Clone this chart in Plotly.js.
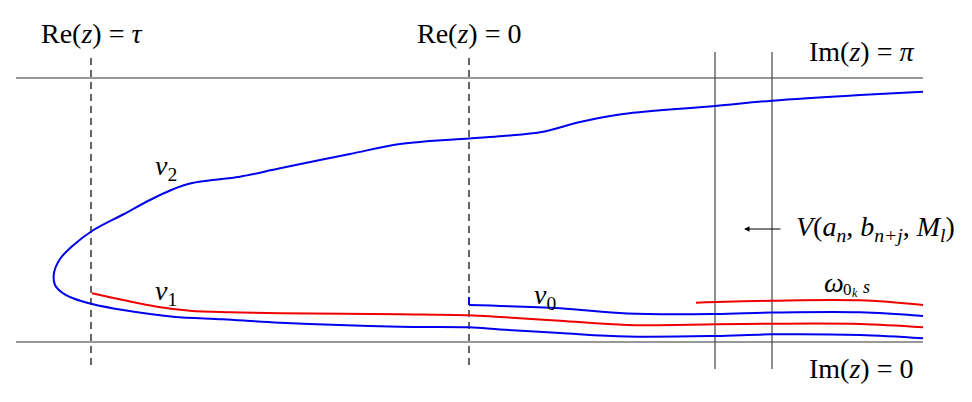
<!DOCTYPE html>
<html><head><meta charset="utf-8">
<script src="https://cdn.plot.ly/plotly-3.0.1.min.js"></script>
<style>html,body{margin:0;padding:0;background:#fff}#plot{width:972px;height:402px}</style>
</head><body><div id="plot"></div>
<script>
// Boundary lines Im(z)=π and Im(z)=0
const boundX = [16, 923];
const imPiY = [78, 78];
const imZeroY = [342, 342];
// Dashed vertical lines Re(z)=τ and Re(z)=0
const reTauX = [91, 91];
const reZeroX = [469, 469];
const dashY = [58, 369];
// Solid vertical lines of the box V
const vLeftX = [715, 715];
const vRightX = [772, 772];
const vY = [52, 369];
// Blue loop curve (ν2 upper branch, lower branch under ν1)
const loopX = [923, 860, 772, 715, 623, 580, 543, 503, 469, 400, 350, 280, 240, 207, 190, 173, 150, 123, 92, 73, 60, 54, 55, 63, 73, 92, 123, 173, 223, 280, 400, 469, 500, 560, 627, 715, 772, 860, 923];
const loopY = [91.7, 95, 100.7, 106, 114, 122, 131.7, 136, 138.5, 144, 154, 168.3, 176.7, 180.7, 183.5, 189.3, 200, 214.5, 231, 245.5, 259, 273, 285, 293.3, 298.3, 304, 310, 316.7, 319.3, 322.7, 326.7, 327.3, 329.5, 333, 336.5, 336, 334.3, 335, 338.3];
// Red curve ν1
const nu1X = [92, 123, 157, 190, 230, 280, 400, 469, 500, 560, 627, 715, 772, 860, 923];
const nu1Y = [293.3, 300, 306.7, 310.7, 312.3, 313.3, 314.2, 315.2, 317, 320.7, 325, 324.3, 323.7, 324, 327.3];
// Blue curve ν0 (with its short starting tick)
const nu0TickX = [469, 469];
const nu0TickY = [297, 305];
const nu0X = [469, 560, 627, 715, 772, 860, 923];
const nu0Y = [305, 308.3, 313.5, 314, 312.6, 312.3, 316];
// Red curve ω_{0_k s}
const omX = [696, 772, 860, 923];
const omY = [302.7, 300.7, 300.3, 305];

const black = '#333';
const traces = [];
function ln(x, y, color, width, dash, shape) {
  traces.push({x: x, y: y, mode: 'lines', hoverinfo: 'skip',
    line: {color: color, width: width, dash: dash || 'solid', shape: shape || 'linear', smoothing: 1}});
}
ln(boundX, imPiY, black, 1.2);
ln(boundX, imZeroY, black, 1.2);
ln(reTauX, dashY, '#000', 1.2, '7px,5px');
ln(reZeroX, dashY, '#000', 1.2, '7px,5px');
ln(vLeftX, vY, '#444', 1.2);
ln(vRightX, vY, '#444', 1.2);
ln(loopX, loopY, '#0000ee', 2, null, 'spline');
ln(nu1X, nu1Y, '#ee0000', 2, null, 'spline');
ln(nu0TickX, nu0TickY, '#0000ee', 2);
ln(nu0X, nu0Y, '#0000ee', 2, null, 'spline');
ln(omX, omY, '#ee0000', 2, null, 'spline');

const F = 'Liberation Serif, DejaVu Serif, serif';
function lab(x, y, t, size, anchor) {
  return {x: x, y: y, xref: 'x', yref: 'y', text: t, showarrow: false,
    xanchor: anchor || 'center', yanchor: 'middle', font: {family: F, size: size || 28, color: '#000'}};
}
const sp = '&nbsp;';
const annotations = [
  lab(91, 33, 'Re(<i>z</i>)' + sp + '=' + sp + '<i>τ</i>'),
  lab(469, 33, 'Re(<i>z</i>)' + sp + '=' + sp + '0'),
  lab(861, 51, 'Im(<i>z</i>)' + sp + '=' + sp + '<i>π</i>'),
  lab(861, 368, 'Im(<i>z</i>)' + sp + '=' + sp + '0'),
  lab(794, 228, '<i>V</i>' + '(<i>a<sub>n</sub></i>,' + sp + '<i>b<sub>n+j</sub></i>,' + sp + '<i>M<sub>l</sub></i>)', 28, 'left'),
  lab(166, 167, '<i>ν</i><sub>2</sub>', 28),
  lab(166, 292, '<i>ν</i><sub>1</sub>', 28),
  lab(545, 296, '<i>ν</i><sub>0</sub>', 28),
  lab(822, 282, '<i>ω</i>', 28, 'left'),
  lab(847, 289, '0', 17, 'center'),
  lab(855, 293, '<i>k</i>', 12, 'center'),
  lab(866, 287, '<i>s</i>', 18, 'center'),
  {x: 744, y: 229, ax: 782, ay: 229, axref: 'x', ayref: 'y', xref: 'x', yref: 'y',
   text: '', showarrow: true, arrowhead: 2, arrowsize: 1, arrowwidth: 1.1, arrowcolor: '#000'}
];

Plotly.newPlot('plot', traces, {
  width: 972, height: 402, margin: {l: 0, r: 0, t: 0, b: 0},
  paper_bgcolor: '#fff', plot_bgcolor: '#fff', showlegend: false,
  xaxis: {range: [0, 972], visible: false, fixedrange: true},
  yaxis: {range: [402, 0], visible: false, fixedrange: true},
  annotations: annotations
}, {staticPlot: true, displayModeBar: false});
</script></body></html>
